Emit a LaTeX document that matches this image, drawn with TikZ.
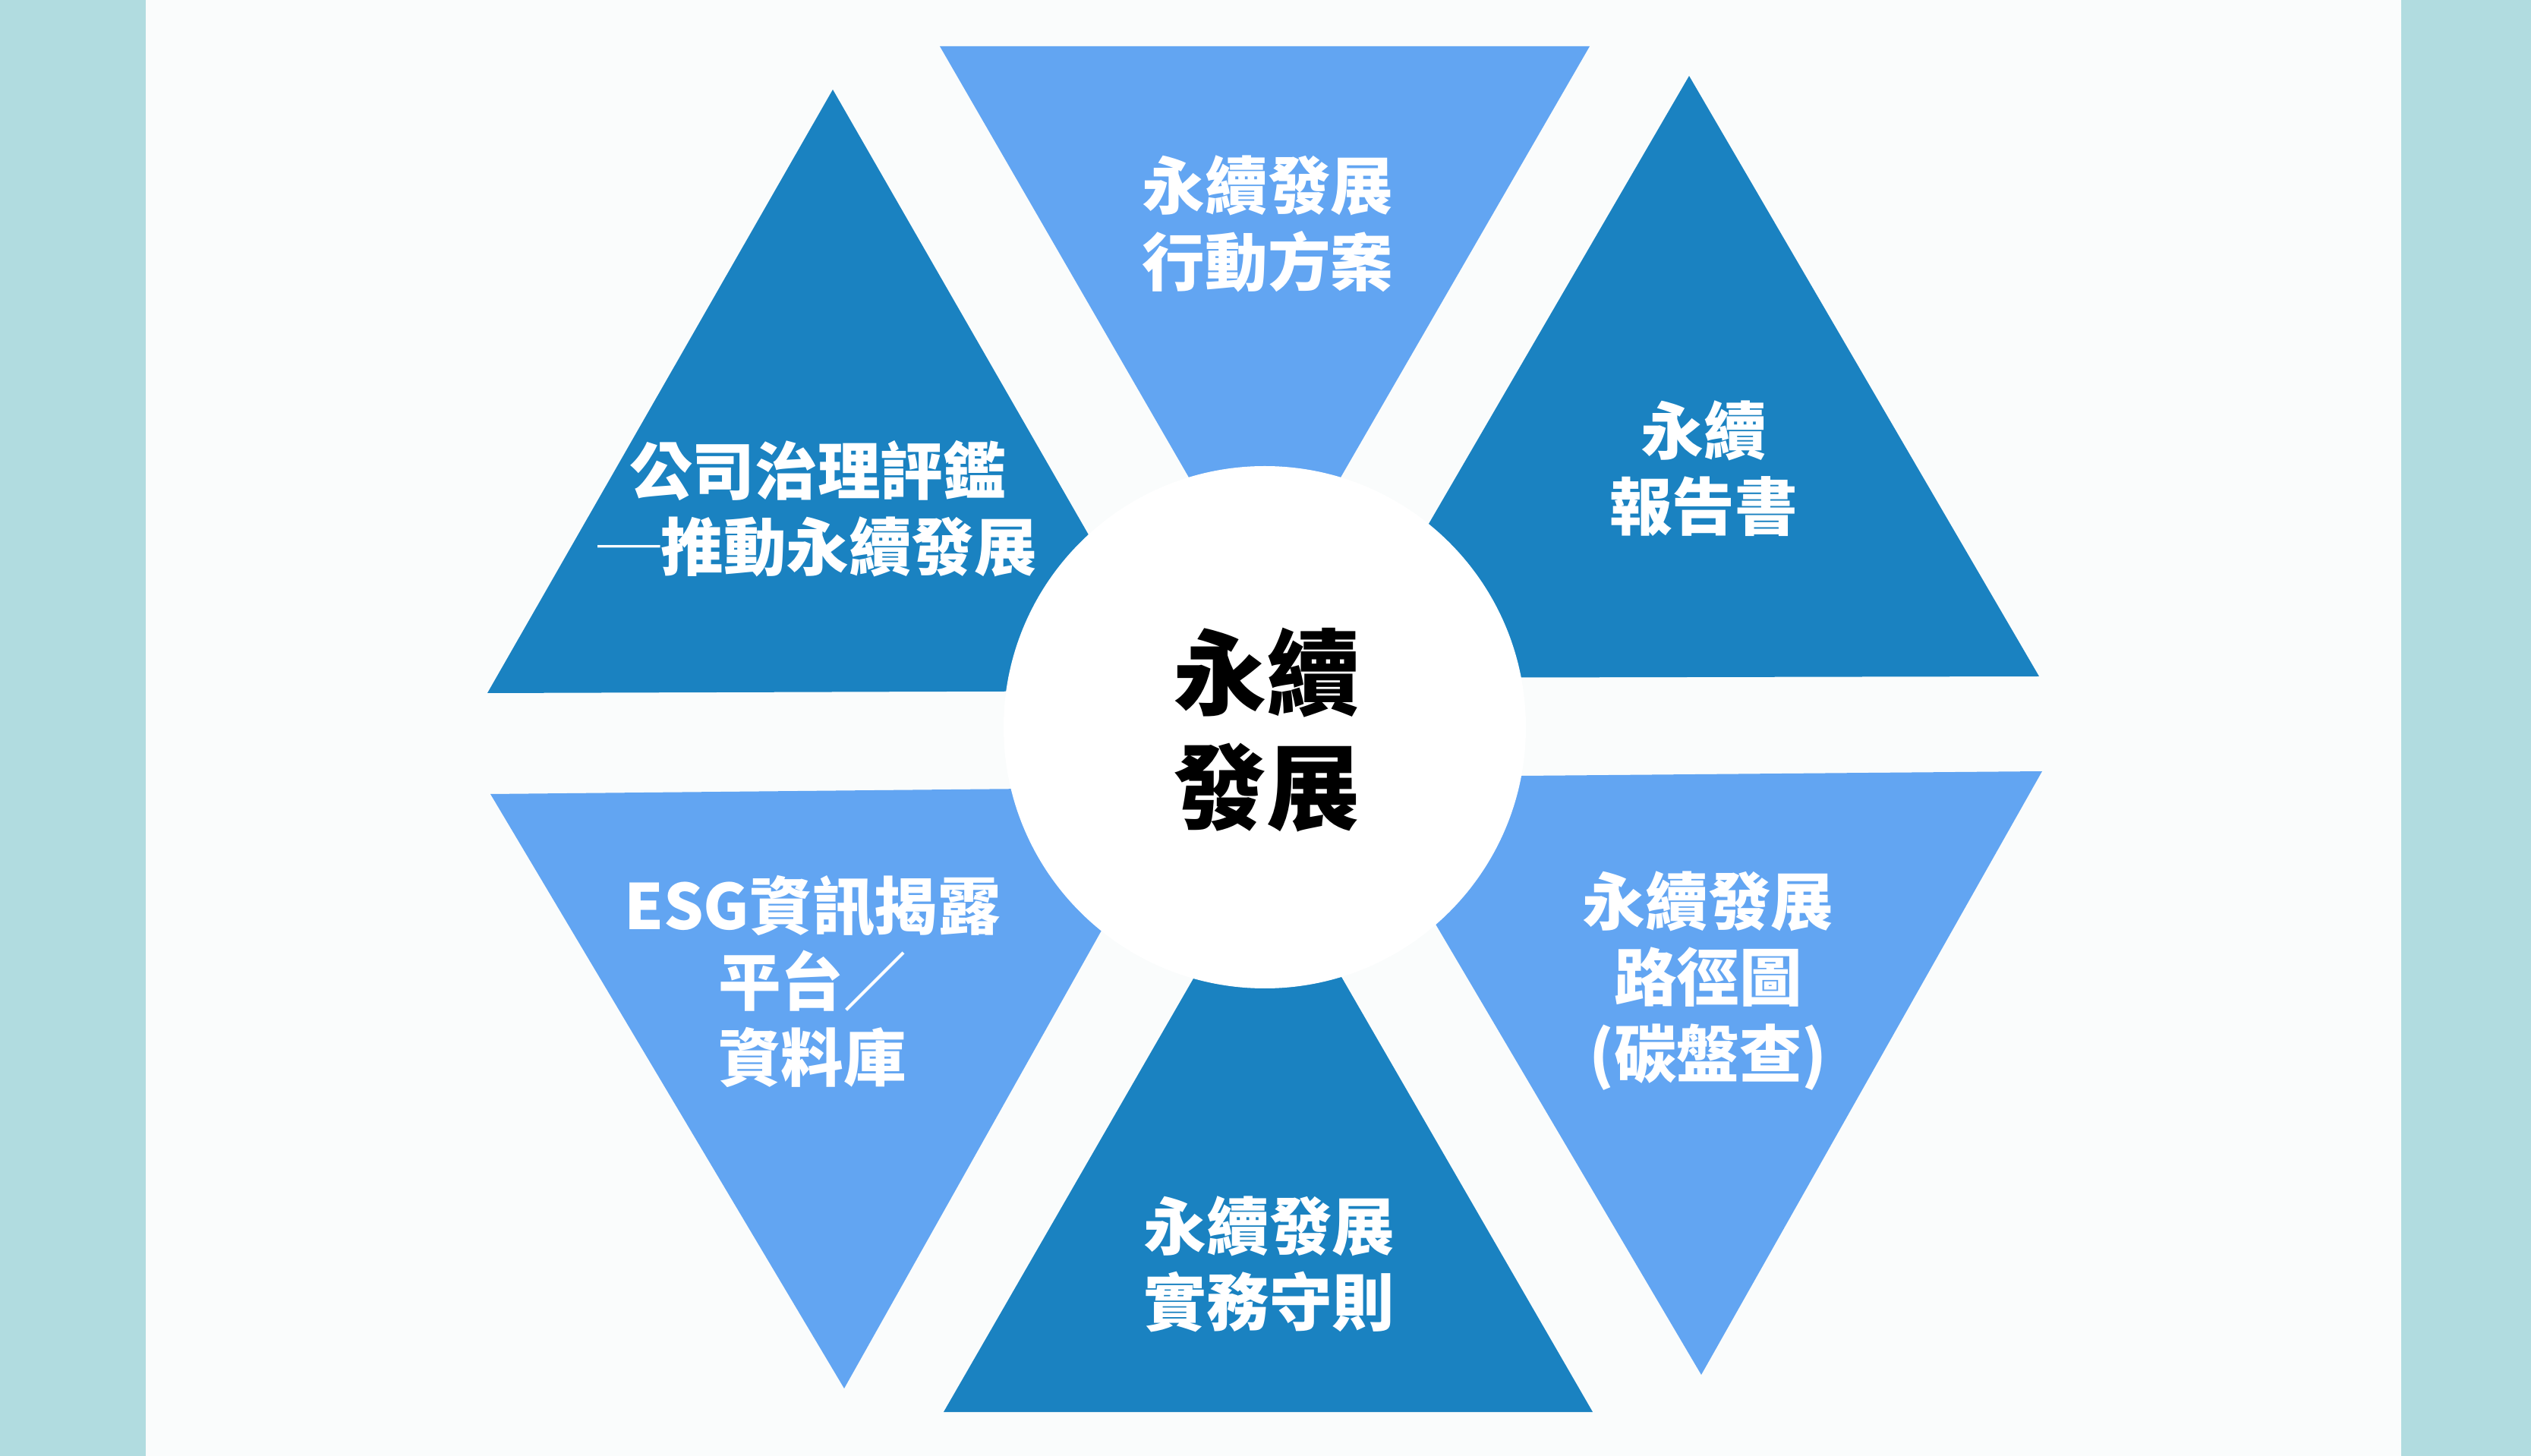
\documentclass[tikz,border=0pt]{standalone}
\usepackage{fontspec}
\newfontfamily\cjk{Noto Sans CJK TC}
\usepackage{xcolor}
\usetikzlibrary{
	calc,               %计算
	positioning        %定位
}
\definecolor{tealbg}{HTML}{B1DCE0}
\definecolor{paper}{HTML}{FAFCFC}
\definecolor{darkblue}{HTML}{1A82C1}
\definecolor{lightblue}{HTML}{62A5F2}
\tikzset{
	every picture/.style={
		>=latex,
		node distance=5mm and 5mm
	},
	tridark/.style={fill=darkblue},
	trilight/.style={fill=lightblue},
	lbl/.style={text=white,align=center,font=\cjk\bfseries\fontsize{23.5}{28.5}\selectfont},
	hub/.style={text=black,align=center,font=\cjk\bfseries\fontsize{35}{43}\selectfont}
}

\begin{document}
\begin{tikzpicture}
%背景与两侧色条
\fill[paper] (0,0) rectangle (33.34,-19.18);
\fill[tealbg] (0,0) rectangle (1.92,-19.18);
\fill[tealbg] (31.63,0) rectangle (33.34,-19.18);
\useasboundingbox (0,0) rectangle (33.34,-19.18);
%上方倒三角
\fill[trilight] (12.38,-0.61) -- (20.94,-0.61) -- (16.66,-8.02) -- cycle;
%左上三角
\fill[tridark] (10.97,-1.18) -- (15.52,-9.10) -- (6.42,-9.13) -- cycle;
%右上三角
\fill[tridark] (22.25,-1.00) -- (26.86,-8.91) -- (17.64,-8.93) -- cycle;
%左下倒三角
\fill[trilight] (6.46,-10.46) -- (15.57,-10.37) -- (11.12,-18.29) -- cycle;
%下方三角
\fill[tridark] (16.70,-11.19) -- (20.98,-18.60) -- (12.43,-18.60) -- cycle;
%右下倒三角
\fill[trilight] (17.77,-10.24) -- (26.90,-10.16) -- (22.41,-18.11) -- cycle;
%中间白色圆
\fill[white] (16.66,-9.58) circle(3.44cm);
%文字
\node[hub] (core) at (16.68,-9.62) {永續\\發展};
\node[lbl] (plan) at (16.70,-2.95) {永續發展\\行動方案};
\node[lbl] (gov) at (10.77,-6.70) {公司治理評鑑\\─推動永續發展};
\node[lbl] (report) at (22.44,-6.17) {永續\\報告書};
\node[lbl] (esg) at (10.70,-12.93) {ESG資訊揭露\\平台／\\資料庫};
\node[lbl] (road) at (22.50,-12.92) {永續發展\\路徑圖\\(碳盤查)};
\node[lbl] (rule) at (16.72,-16.65) {永續發展\\實務守則};
\end{tikzpicture}
\end{document}
